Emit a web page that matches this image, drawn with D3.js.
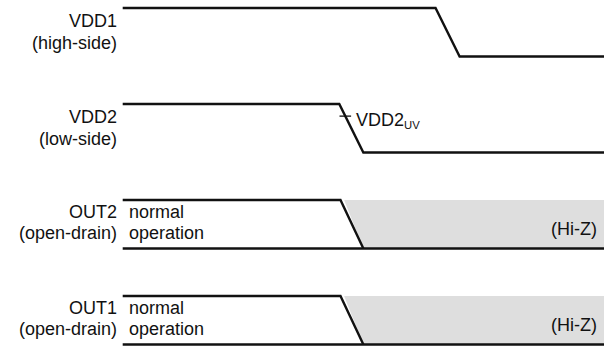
<!DOCTYPE html>
<html><head><meta charset="utf-8">
<script src="https://cdn.jsdelivr.net/npm/d3@7"></script>
<style>
html,body{margin:0;padding:0;background:#fff;}
svg{display:block;font-family:"Liberation Sans",Arial,sans-serif;}
</style></head>
<body><div id="chart"></div>
<script>
// ---- data ----
const signals = ["VDD1", "VDD2", "OUT2", "OUT1"];
const subLabels = ["(high-side)", "(low-side)", "(open-drain)", "(open-drain)"];
// waveform breakpoints: time and logic level (1 = high, 0 = low)
const vdd1Times = [0, 13, 14, 20];
const vdd1Levels = [1, 1, 0, 0];
const vdd2Times = [0, 9, 10, 20];
const vdd2Levels = [1, 1, 0, 0];
const outTopTimes = [0, 9.05, 10];
const outTopLevels = [1, 1, 0];
const outBottomTimes = [0, 20];
const outBottomLevels = [0, 0];
const hizTimes = [9.2, 20, 20, 10];
const hizLevels = [1, 1, 0, 0];
const outSignals = ["OUT2", "OUT1"];
const normalText = ["normal", "operation"];
const hizText = "(Hi-Z)";
const uvLabel = "VDD2";
const uvSub = "UV";
const uvLevel = 0.75;

// ---- layout ----
const W = 614, H = 348;
const svg = d3.select("#chart").append("svg").attr("width", W).attr("height", H);
const x = d3.scaleLinear().domain([0, 20]).range([122.7, 604]);
const row = d3.scaleBand().domain(signals).range([8, 8 + 96 * 4]).paddingInner(0).paddingOuter(0);
const lvl = d3.scaleLinear().domain([0, 1]).range([48.5, 0]);
const yOf = (s, v) => row(s) + lvl(v);
const zip = (ts, ls) => ts.map((t, i) => [t, ls[i]]);
const lineFor = s => d3.line().x(d => x(d[0])).y(d => yOf(s, d[1]));

const stroke = "#111";
const sw = 2.4;
const fs = 18;
const isOut = s => outSignals.includes(s);
const line1 = s => row(s) + (isOut(s) ? 18 : 19);
const line2 = s => row(s) + (isOut(s) ? 38.5 : 41);

// Hi-Z shaded regions
outSignals.forEach(s => {
  svg.append("path")
    .attr("d", lineFor(s)(zip(hizTimes, hizLevels)) + "Z")
    .attr("fill", "#dedede").attr("stroke", "none");
});

// waveforms
const waves = [
  ["VDD1", zip(vdd1Times, vdd1Levels)],
  ["VDD2", zip(vdd2Times, vdd2Levels)],
  ["OUT2", zip(outTopTimes, outTopLevels)],
  ["OUT2", zip(outBottomTimes, outBottomLevels)],
  ["OUT1", zip(outTopTimes, outTopLevels)],
  ["OUT1", zip(outBottomTimes, outBottomLevels)]
];
waves.forEach(([s, pts]) => {
  svg.append("path").attr("d", lineFor(s)(pts))
    .attr("fill", "none").attr("stroke", stroke).attr("stroke-width", sw)
    .attr("stroke-linejoin", "miter");
});

// signal labels
signals.forEach((s, i) => {
  const g = svg.append("text").attr("text-anchor", "end").attr("font-size", fs).attr("fill", "#111");
  g.append("tspan").attr("x", 117).attr("y", line1(s)).text(s);
  g.append("tspan").attr("x", 117).attr("y", line2(s)).text(subLabels[i]);
});

// normal operation / Hi-Z text
outSignals.forEach(s => {
  const g = svg.append("text").attr("font-size", fs).attr("fill", "#111");
  g.append("tspan").attr("x", 129).attr("y", line1(s)).text(normalText[0]);
  g.append("tspan").attr("x", 129).attr("y", line2(s)).text(normalText[1]);
  svg.append("text").attr("text-anchor", "end").attr("font-size", fs).attr("fill", "#111")
    .attr("x", 597).attr("y", row(s) + 34.5).text(hizText);
});

// VDD2 UV threshold marker
const tUv = vdd2Times[1] + (vdd2Times[2] - vdd2Times[1]) * (1 - uvLevel);
svg.append("line")
  .attr("x1", x(tUv) - 5.8).attr("x2", x(tUv) + 5.8)
  .attr("y1", yOf("VDD2", uvLevel)).attr("y2", yOf("VDD2", uvLevel))
  .attr("stroke", stroke).attr("stroke-width", 1.3);
const uv = svg.append("text").attr("x", 356).attr("y", row("VDD2") + 22)
  .attr("font-size", fs).attr("fill", "#111");
uv.append("tspan").text(uvLabel);
uv.append("tspan").attr("font-size", 11.3).attr("dy", 3).text(uvSub);
</script></body></html>
